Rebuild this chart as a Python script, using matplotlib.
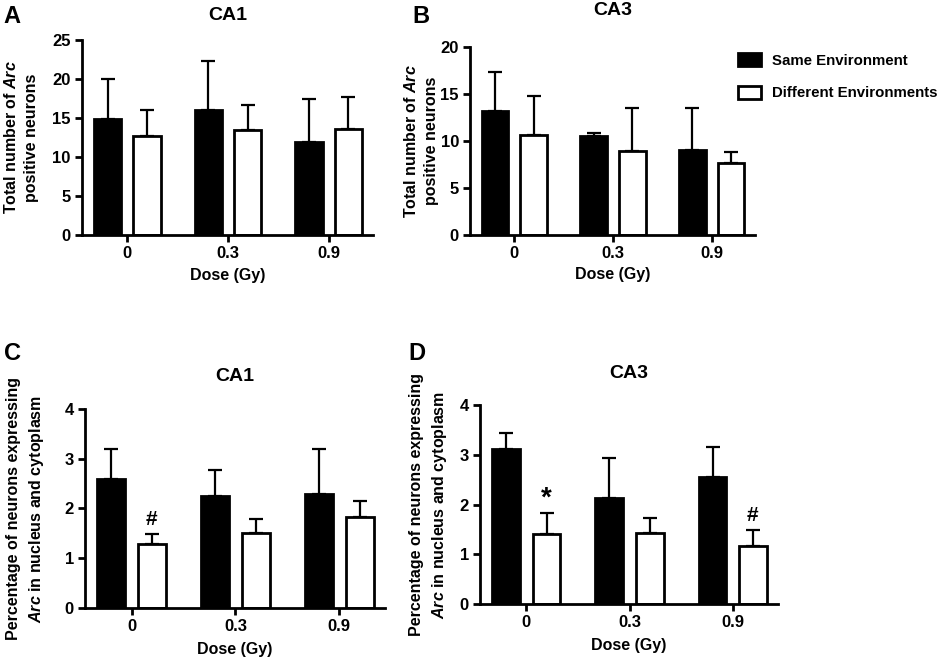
import numpy as np
import matplotlib.pyplot as plt
from matplotlib.patches import Patch

plt.rcParams['font.family'] = 'Liberation Sans'
plt.rcParams['font.weight'] = 'bold'
plt.rcParams['axes.labelweight'] = 'bold'
plt.rcParams['mathtext.fontset'] = 'custom'
plt.rcParams['mathtext.it'] = 'Liberation Sans:italic:bold'
plt.rcParams['mathtext.rm'] = 'Liberation Sans:bold'

doses = ['0', '0.3', '0.9']
series = ['Same Environment', 'Different Environments']

# panel A - CA1 total Arc+ neurons
a_same = [14.9, 16.0, 11.9]
a_same_err = [5.1, 6.3, 5.6]
a_diff = [12.7, 13.4, 13.6]
a_diff_err = [3.3, 3.3, 4.1]

# panel B - CA3 total Arc+ neurons
b_same = [13.2, 10.5, 9.0]
b_same_err = [4.1, 0.4, 4.5]
b_diff = [10.6, 8.9, 7.7]
b_diff_err = [4.2, 4.6, 1.1]

# panel C - CA1 % nucleus+cytoplasm
c_same = [2.59, 2.26, 2.30]
c_same_err = [0.60, 0.51, 0.89]
c_diff = [1.28, 1.50, 1.82]
c_diff_err = [0.20, 0.29, 0.34]

# panel D - CA3 % nucleus+cytoplasm
d_same = [3.11, 2.14, 2.55]
d_same_err = [0.33, 0.80, 0.61]
d_diff = [1.40, 1.42, 1.16]
d_diff_err = [0.43, 0.30, 0.32]

fig = plt.figure(figsize=(9.41, 6.6), dpi=100)

lbl_total = 'Total number of $\\mathit{Arc}$\npositive neurons'
lbl_pct = 'Percentage of neurons expressing\n$\\mathit{Arc}$ in nucleus and cytoplasm'

panels = [
    # rect, letter, letter pos, title, title y, ylim, step, data, ylabel, ylabel x
    ([0.0871, 0.6439, 0.3093, 0.2955], 'A', (0.004, 0.992), 'CA1', 1.128, 25, 5,
     (a_same, a_same_err, a_diff, a_diff_err), lbl_total, -0.148),
    ([0.4995, 0.6439, 0.3029, 0.2848], 'B', (0.438, 0.992), 'CA3', 1.197, 20, 5,
     (b_same, b_same_err, b_diff, b_diff_err), lbl_total, -0.108),
    ([0.0903, 0.0788, 0.3188, 0.3015], 'C', (0.004, 0.482), 'CA1', 1.161, 4, 1,
     (c_same, c_same_err, c_diff, c_diff_err), lbl_pct, -0.13),
    ([0.5101, 0.0848, 0.3167, 0.3015], 'D', (0.434, 0.482), 'CA3', 1.16, 4, 1,
     (d_same, d_same_err, d_diff, d_diff_err), lbl_pct, -0.105),
]

x = np.arange(len(doses))
w = 0.27
off = 0.195
axes = []
for rect, letter, lpos, title, ty, ymax, step, data, ylab, ylx in panels:
    ax = fig.add_axes(rect)
    same, same_err, diff, diff_err = data
    ax.bar(x - off, same, w, color='black', edgecolor='black', linewidth=2, zorder=2)
    ax.bar(x + off, diff, w, color='white', edgecolor='black', linewidth=2, zorder=2)
    ax.errorbar(x - off, same, yerr=[np.zeros(3), same_err], fmt='none', ecolor='black',
                elinewidth=1.6, capsize=5, capthick=1.6, zorder=1)
    ax.errorbar(x + off, diff, yerr=[np.zeros(3), diff_err], fmt='none', ecolor='black',
                elinewidth=1.6, capsize=5, capthick=1.6, zorder=1)
    ax.set_xlim(-0.45, 2.44)
    ax.set_ylim(0, ymax)
    ax.set_yticks(np.arange(0, ymax + step / 2, step))
    ax.set_xticks(x)
    ax.set_xticklabels(doses)
    for s in ['top', 'right']:
        ax.spines[s].set_visible(False)
    for s in ['left', 'bottom']:
        ax.spines[s].set_linewidth(2)
    ax.tick_params(width=2, length=5, labelsize=12, pad=3)
    ax.set_ylabel(ylab, fontsize=11.5, linespacing=1.4)
    ax.yaxis.set_label_coords(ylx, 0.5)
    ax.set_xlabel('Dose (Gy)', fontsize=11.5)
    ax.xaxis.set_label_coords(0.5, -0.17)
    ax.text(0.5, ty, title, transform=ax.transAxes, ha='center', va='center',
            fontsize=14, fontweight='bold')
    fig.text(lpos[0], lpos[1], letter, ha='left', va='top', fontsize=17, fontweight='bold')
    axes.append(ax)

# significance marks
axes[2].text(x[0] + off, c_diff[0] + c_diff_err[0] + 0.1, '#', ha='center', va='bottom',
             fontsize=15, fontweight='bold')
axes[3].text(x[0] + off, d_diff[0] + d_diff_err[0] + 0.02, '*', ha='center', va='bottom',
             fontsize=20, fontweight='bold')
axes[3].text(x[2] + off, d_diff[2] + d_diff_err[2] + 0.1, '#', ha='center', va='bottom',
             fontsize=15, fontweight='bold')

handles = [Patch(facecolor='black', edgecolor='black', linewidth=2),
           Patch(facecolor='white', edgecolor='black', linewidth=2)]
fig.legend(handles, series, loc='upper left', bbox_to_anchor=(0.77, 0.94),
           frameon=False, fontsize=10.8, handlelength=1.5, handleheight=0.95,
           handletextpad=0.75, labelspacing=1.2)

fig.savefig('out.png', dpi=100)
